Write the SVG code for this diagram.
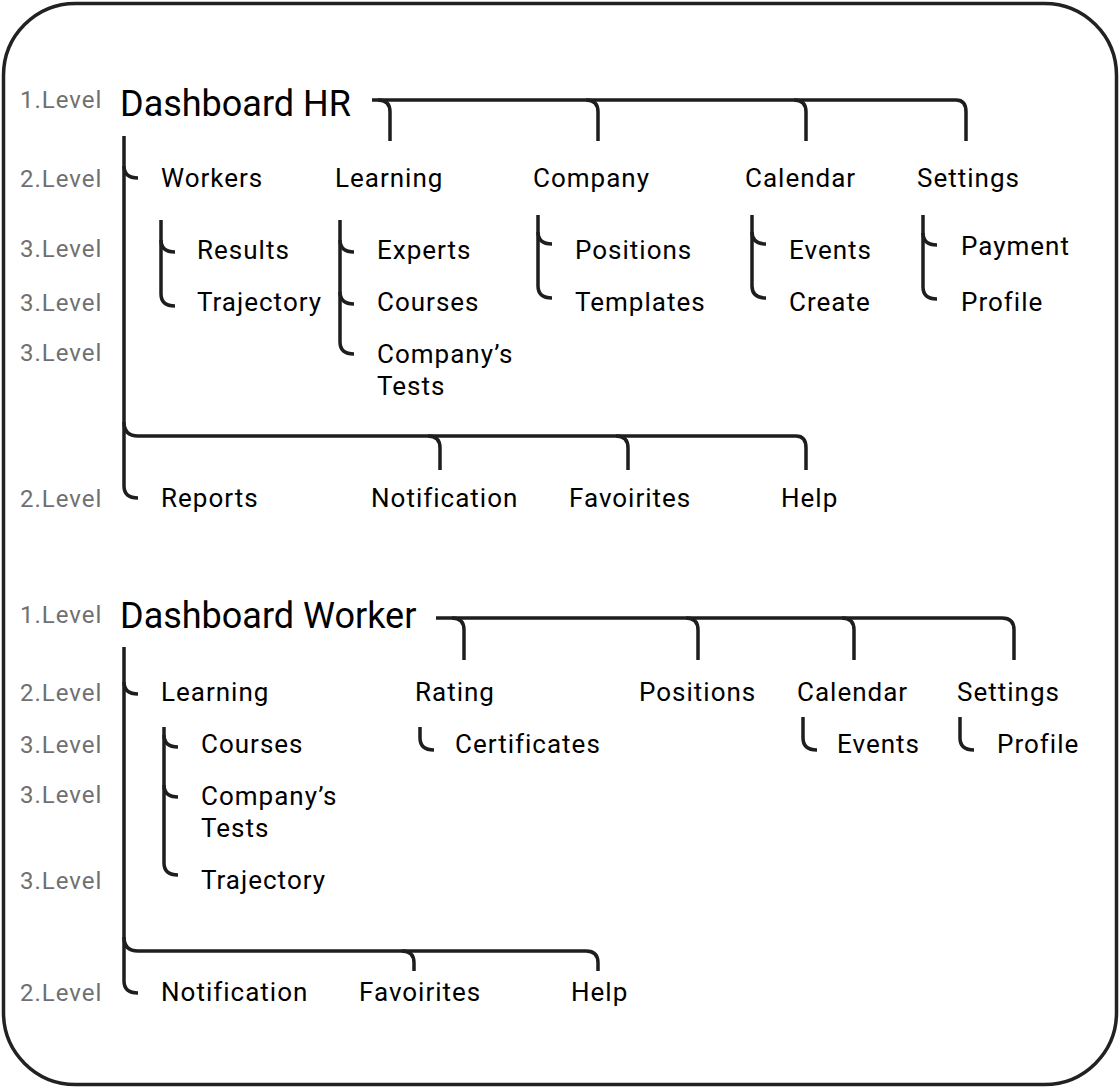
<svg xmlns="http://www.w3.org/2000/svg" width="1120" height="1088" viewBox="0 0 1120 1088">
<style>
.lv{font-family:Roboto,"Liberation Sans",sans-serif;font-size:24px;letter-spacing:1px;fill:#707070}
.t{font-family:Roboto,"Liberation Sans",sans-serif;font-size:26px;letter-spacing:1px;fill:#000}
.h{font-family:Roboto,"Liberation Sans",sans-serif;font-size:36px;fill:#000}
.c{fill:none;stroke:#1e1e1e;stroke-width:3.5;stroke-linecap:butt}
</style>
<rect x="3.5" y="3.5" width="1113" height="1081" rx="72" fill="#fff" stroke="#222" stroke-width="3.5"/>

<g id="levels">
<text class="lv" x="20" y="108">1.Level</text>
<text class="lv" x="20" y="187">2.Level</text>
<text class="lv" x="20" y="257">3.Level</text>
<text class="lv" x="20" y="311">3.Level</text>
<text class="lv" x="20" y="361">3.Level</text>
<text class="lv" x="20" y="507">2.Level</text>
<text class="lv" x="20" y="623">1.Level</text>
<text class="lv" x="20" y="701">2.Level</text>
<text class="lv" x="20" y="753">3.Level</text>
<text class="lv" x="20" y="803">3.Level</text>
<text class="lv" x="20" y="889">3.Level</text>
<text class="lv" x="20" y="1001">2.Level</text>
</g>

<g id="connectors">
<path class="c" d="M372,100 H956 Q966,100 966,112 V141"/>
<path class="c" d="M378,100 Q390,100 390,112 V141"/>
<path class="c" d="M586,100 Q598,100 598,112 V141"/>
<path class="c" d="M794,100 Q806,100 806,112 V141"/>
<path class="c" d="M124,136 V486 Q124,498 138,498"/>
<path class="c" d="M124,166 Q124,178 138,178"/>
<path class="c" d="M124,422 Q124,436 138,436 H796 Q806,436 806,448 V470"/>
<path class="c" d="M428,436 Q440,436 440,448 V470"/>
<path class="c" d="M616,436 Q628,436 628,448 V470"/>
<path class="c" d="M161,220 V294 Q161,306 175,306"/>
<path class="c" d="M161,240 Q161,252 175,252"/>
<path class="c" d="M340,220 V342 Q340,354 354,354"/>
<path class="c" d="M340,240 Q340,252 354,252"/>
<path class="c" d="M340,292 Q340,304 354,304"/>
<path class="c" d="M538,215 V286 Q538,298 552,298"/>
<path class="c" d="M538,232 Q538,244 552,244"/>
<path class="c" d="M752,215 V286 Q752,298 766,298"/>
<path class="c" d="M752,232 Q752,244 766,244"/>
<path class="c" d="M923,215 V287 Q923,299 937,299"/>
<path class="c" d="M923,233 Q923,245 937,245"/>
<path class="c" d="M436,618 H1002 Q1014,618 1014,630 V660"/>
<path class="c" d="M452,618 Q464,618 464,630 V660"/>
<path class="c" d="M686,618 Q698,618 698,630 V660"/>
<path class="c" d="M842,618 Q854,618 854,630 V660"/>
<path class="c" d="M124,647 V981 Q124,993 138,993"/>
<path class="c" d="M124,682 Q124,694 138,694"/>
<path class="c" d="M124,937 Q124,951 138,951 H586 Q598,951 598,963 V971"/>
<path class="c" d="M402,951 Q414,951 414,963 V971"/>
<path class="c" d="M164,727 V863 Q164,875 178,875"/>
<path class="c" d="M164,735 Q164,747 178,747"/>
<path class="c" d="M164,785 Q164,797 178,797"/>
<path class="c" d="M420,727 V738 Q420,750 434,750"/>
<path class="c" d="M803,717 V738 Q803,750 817,750"/>
<path class="c" d="M960,717 V738 Q960,750 974,750"/>
</g>

<g id="hr-root"><text class="h" x="120" y="116">Dashboard HR</text></g>
<g id="hr-workers"><text class="t" x="161" y="187">Workers</text></g>
<g id="hr-learning"><text class="t" x="335" y="187">Learning</text></g>
<g id="hr-company"><text class="t" x="533" y="187">Company</text></g>
<g id="hr-calendar"><text class="t" x="745" y="187">Calendar</text></g>
<g id="hr-settings"><text class="t" x="917" y="187">Settings</text></g>
<g id="hr-results"><text class="t" x="197" y="259">Results</text></g>
<g id="hr-trajectory"><text class="t" x="197" y="311">Trajectory</text></g>
<g id="hr-experts"><text class="t" x="377" y="259">Experts</text></g>
<g id="hr-courses"><text class="t" x="377" y="311">Courses</text></g>
<g id="hr-tests"><text class="t" x="377" y="363">Company’s</text><text class="t" x="377" y="395">Tests</text></g>
<g id="hr-positions"><text class="t" x="575" y="259">Positions</text></g>
<g id="hr-templates"><text class="t" x="575" y="311">Templates</text></g>
<g id="hr-events"><text class="t" x="789" y="259">Events</text></g>
<g id="hr-create"><text class="t" x="789" y="311">Create</text></g>
<g id="hr-payment"><text class="t" x="961" y="255">Payment</text></g>
<g id="hr-profile"><text class="t" x="961" y="311">Profile</text></g>
<g id="hr-reports"><text class="t" x="161" y="507">Reports</text></g>
<g id="hr-notification"><text class="t" x="371" y="507">Notification</text></g>
<g id="hr-favoirites"><text class="t" x="569" y="507">Favoirites</text></g>
<g id="hr-help"><text class="t" x="781" y="507">Help</text></g>

<g id="w-root"><text class="h" x="120" y="628">Dashboard Worker</text></g>
<g id="w-learning"><text class="t" x="161" y="701">Learning</text></g>
<g id="w-rating"><text class="t" x="415" y="701">Rating</text></g>
<g id="w-positions"><text class="t" x="639" y="701">Positions</text></g>
<g id="w-calendar"><text class="t" x="797" y="701">Calendar</text></g>
<g id="w-settings"><text class="t" x="957" y="701">Settings</text></g>
<g id="w-courses"><text class="t" x="201" y="753">Courses</text></g>
<g id="w-tests"><text class="t" x="201" y="805">Company’s</text><text class="t" x="201" y="837">Tests</text></g>
<g id="w-trajectory"><text class="t" x="201" y="889">Trajectory</text></g>
<g id="w-certificates"><text class="t" x="455" y="753">Certificates</text></g>
<g id="w-events"><text class="t" x="837" y="753">Events</text></g>
<g id="w-profile"><text class="t" x="997" y="753">Profile</text></g>
<g id="w-notification"><text class="t" x="161" y="1001">Notification</text></g>
<g id="w-favoirites"><text class="t" x="359" y="1001">Favoirites</text></g>
<g id="w-help"><text class="t" x="571" y="1001">Help</text></g>
</svg>
